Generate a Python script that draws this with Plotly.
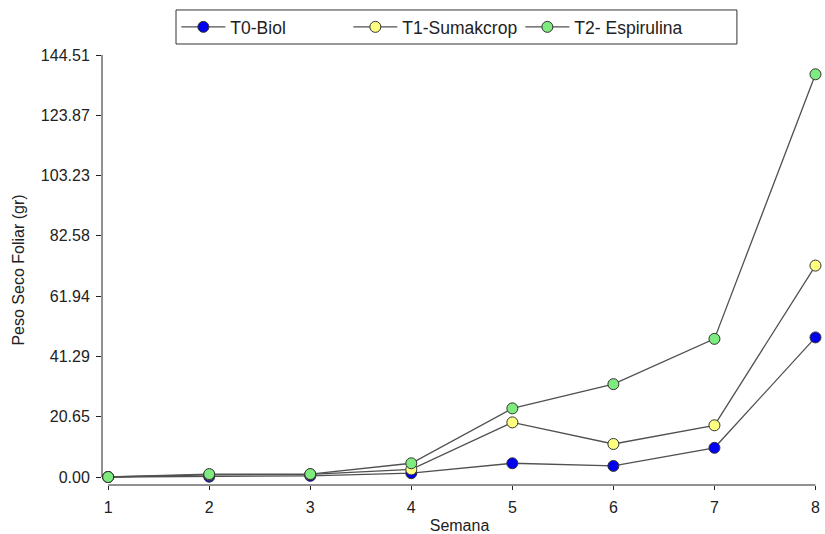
import plotly.graph_objects as go

semana = [1, 2, 3, 4, 5, 6, 7, 8]
t0_biol = [0.0, 0.1, 0.4, 1.3, 4.7, 3.8, 10.0, 47.8]
t1_sumakcrop = [0.0, 0.7, 0.9, 2.6, 18.7, 11.3, 17.7, 72.4]
t2_espirulina = [0.0, 1.0, 1.0, 4.7, 23.5, 31.8, 47.3, 137.9]
y_tick_labels = ["0.00", "20.65", "41.29", "61.94", "82.58", "103.23", "123.87", "144.51"]

series = [
    ("T0-Biol", t0_biol, "#0000F0"),
    ("T1-Sumakcrop", t1_sumakcrop, "#FFFF80"),
    ("T2- Espirulina", t2_espirulina, "#7DEB7D"),
]

fig = go.Figure()
for name, vals, color in series:
    fig.add_trace(go.Scatter(
        x=semana, y=vals, name=name, mode="lines+markers", cliponaxis=False,
        line=dict(color="#505050", width=1.3),
        marker=dict(size=11, color=color, line=dict(color="#333333", width=1)),
    ))

y_ticks = [float(t) for t in y_tick_labels]
axis_color = "#222222"

# Detached axis lines: x spans the first to last week, y spans the tick range
fig.add_shape(type="line", xref="x", yref="paper", x0=semana[0], x1=semana[-1], y0=0, y1=0,
              line=dict(color=axis_color, width=1))
fig.add_shape(type="line", xref="paper", yref="y", x0=0, x1=0, y0=y_ticks[0], y1=y_ticks[-1],
              line=dict(color=axis_color, width=1))
# Frame around the legend row
fig.add_shape(type="rect", xref="paper", yref="paper", x0=0.1035, x1=0.888, y0=1.0256, y1=1.1047,
              line=dict(color="#333333", width=1), fillcolor="rgba(0,0,0,0)")

font_family = "Liberation Sans, Arial, sans-serif"

fig.update_layout(
    width=825, height=534,
    margin=dict(l=102, r=8, t=55, b=49),
    paper_bgcolor="white", plot_bgcolor="white",
    font=dict(family=font_family, size=16, color="#222222"),
    showlegend=True,
    legend=dict(
        orientation="h", x=0.104, y=1.107, xanchor="left", yanchor="top",
        borderwidth=0, bgcolor="rgba(0,0,0,0)",
        font=dict(size=17.5), entrywidth=113, entrywidthmode="pixels",
        itemwidth=44, tracegroupgap=0,
    ),
    xaxis=dict(
        range=[0.939, 8.015], tickvals=semana, ticktext=[str(s) for s in semana],
        showgrid=False, zeroline=False, showline=False, automargin=False,
        ticks="outside", ticklen=4, tickcolor=axis_color, ticklabelstandoff=4,
        title=dict(text="Semana", font=dict(size=16), standoff=4),
    ),
    yaxis=dict(
        range=[-2.74, 144.51], tickvals=y_ticks, ticktext=y_tick_labels,
        showgrid=False, zeroline=False, showline=False, automargin=False,
        ticks="outside", ticklen=5, tickcolor=axis_color, ticklabelstandoff=3,
        title=dict(text="Peso Seco Foliar (gr)", font=dict(size=16), standoff=12),
    ),
)

fig.write_html("out.html")
